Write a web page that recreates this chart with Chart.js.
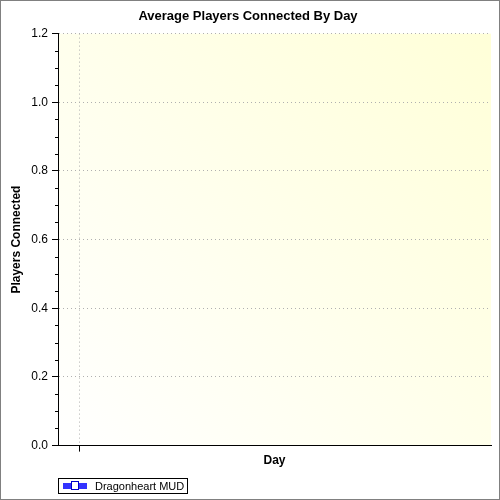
<!DOCTYPE html>
<html><head><meta charset="utf-8">
<script src="https://cdn.jsdelivr.net/npm/chart.js@4"></script>
<style>
body{margin:0;background:#fff;}
#wrap{position:relative;width:498px;height:498px;border:1px solid #808080;}
#legend{position:absolute;left:57px;top:477px;width:128px;height:14px;border:1px solid #000;font:11px "Liberation Sans",Arial,sans-serif;line-height:14px;}
#legend .ico{position:absolute;left:4px;top:4px;width:24px;height:6px;background:#3333ff;}
#legend .ico i{position:absolute;left:8px;top:-2px;width:6px;height:7px;background:#fff;border:1px solid #0000cc;}
#legend span{position:absolute;left:36px;top:0;}
</style></head>
<body><div id="wrap"><canvas id="c" width="498" height="498"></canvas>
<div id="legend"><div class="ico"><i></i></div><span>Dragonheart MUD</span></div></div>
<script>
const days = [0];
const players = [null];
const seriesName = 'Dragonheart MUD';

const bgPlugin = {
  id: 'bg',
  beforeDraw(chart) {
    const { ctx, chartArea: a } = chart;
    const g = ctx.createLinearGradient(a.left, a.bottom, a.right, a.top);
    g.addColorStop(0, '#ffffff');
    g.addColorStop(1, '#ffffd8');
    ctx.save();
    ctx.fillStyle = g;
    ctx.fillRect(a.left, a.top, a.right - a.left, a.bottom - a.top);
    ctx.restore();
  },
  afterDraw(chart) {
    const { ctx, chartArea: a, scales: { y } } = chart;
    ctx.save();
    ctx.strokeStyle = '#000';
    ctx.lineWidth = 1;
    for (let v = 0.05; v <= 1.2001; v += 0.05) {
      const major = Math.abs(v / 0.2 - Math.round(v / 0.2)) < 1e-6;
      if (major) continue;
      const py = Math.round(y.getPixelForValue(v)) + 0.5;
      ctx.beginPath();
      ctx.moveTo(a.left - 3, py);
      ctx.lineTo(a.left, py);
      ctx.stroke();
    }
    ctx.restore();
  }
};

new Chart(document.getElementById('c'), {
  type: 'line',
  data: { datasets: [{ label: seriesName, data: days.map((d, i) => ({ x: d, y: players[i] })),
    borderColor: '#3333ff', backgroundColor: '#fff', pointStyle: 'rect' }] },
  options: {
    responsive: false, animation: false,
    layout: { padding: { top: 4, right: 8, bottom: 27, left: 4 } },
    plugins: {
      legend: { display: false }, tooltip: { enabled: false },
      title: { display: true, text: 'Average Players Connected By Day', color: '#000',
        font: { family: 'Liberation Sans', size: 13, weight: 'bold' }, padding: { top: 4, bottom: 9 } }
    },
    scales: {
      x: { type: 'linear', min: -0.053, max: 1,
        afterBuildTicks(s) { s.ticks = days.map(d => ({ value: d })); },
        ticks: { display: false },
        grid: { color: '#b0b0b0', tickColor: '#000', tickLength: 6, drawTicks: true },
        border: { color: '#000', width: 1, dash: [1, 3] },
        title: { display: true, text: 'Day', color: '#000', font: { family: 'Liberation Sans', size: 12, weight: 'bold' }, padding: { top: 2 } }
      },
      y: { min: 0, max: 1.2,
        ticks: { stepSize: 0.2, color: '#000', font: { family: 'Liberation Sans', size: 12 },
          callback: v => v.toFixed(1), padding: 4 },
        grid: { color: '#b0b0b0', tickColor: '#000', tickLength: 6, drawTicks: true },
        border: { color: '#000', width: 1, dash: [1, 3] },
        afterFit(s) { s.width = 53; },
        title: { display: true, text: 'Players Connected', color: '#000', font: { family: 'Liberation Sans', size: 12, weight: 'bold' }, padding: { bottom: 2 } }
      }
    }
  },
  plugins: [bgPlugin]
});
</script></body></html>
